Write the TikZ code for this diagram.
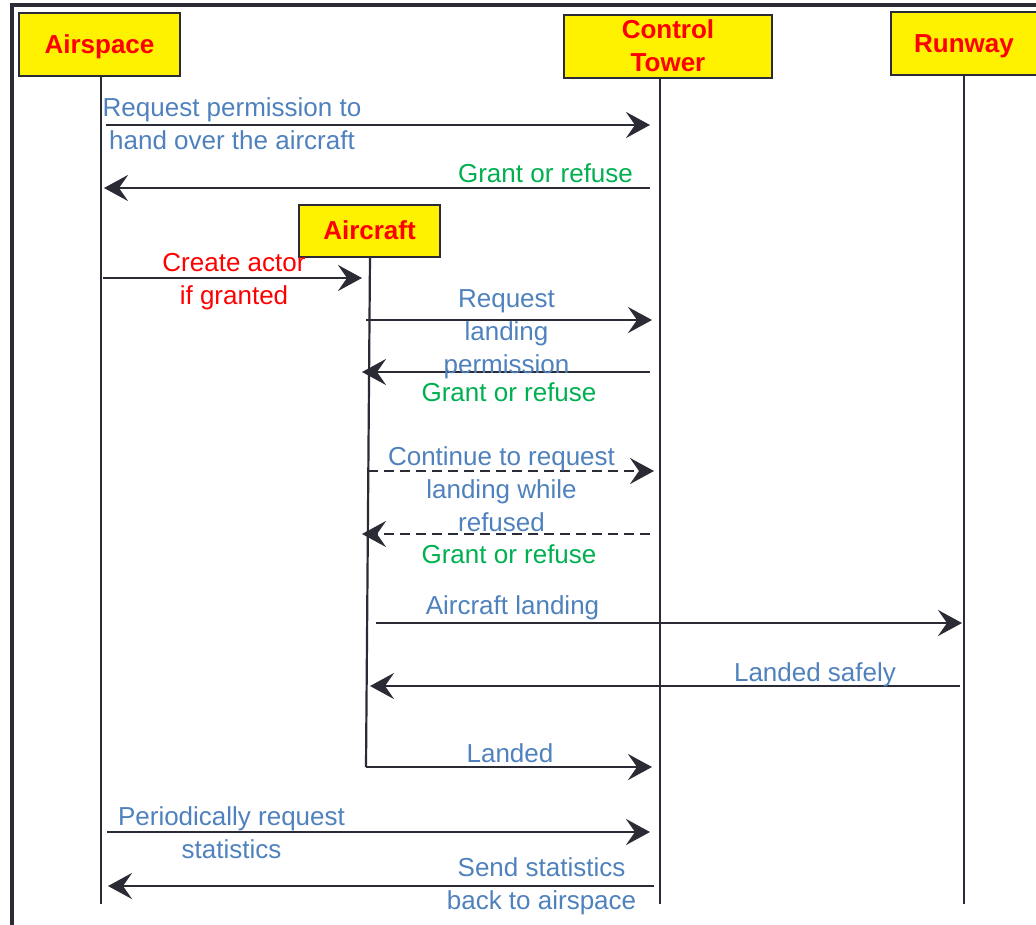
\documentclass[tikz,border=0pt]{standalone}
\usepackage{fontspec}
\setmainfont{Liberation Sans}
\usetikzlibrary{arrows.meta}

\definecolor{msgblue}{RGB}{79,129,189}
\definecolor{msggreen}{RGB}{0,176,80}
\definecolor{linegray}{RGB}{43,43,54}

\begin{document}
\begin{tikzpicture}[x=1pt, y=-1pt,
  actor/.style={draw=linegray, line width=2pt, fill=yellow, text=red, align=center,
    inner sep=0pt, text depth=0pt, font=\fontsize{26}{33}\selectfont\bfseries},
  life/.style={draw=linegray, line width=2.2pt},
  msg/.style={draw=linegray, line width=2.8pt, -{Stealth[length=24pt, width=26pt, inset=9pt]}},
  waitmsg/.style={msg, dash pattern=on 10pt off 6pt},
  txt/.style={font=\fontsize{26}{33}\selectfont, align=center, inner sep=0pt}]

  \useasboundingbox (0,0) rectangle (1036,924);
  \clip (0,0) rectangle (1036,924);
  \draw[linegray, line width=4pt] (11.5,5) rectangle (1080,960);

% actors
  \node[actor, minimum width=161, minimum height=63] (air) at (99.5,44.5) {Airspace};
  \node[actor, minimum width=208, minimum height=63] (tower) at (668,46) {Control\\Tower};
  \node[actor, minimum width=146, minimum height=63] (run) at (964,43.5) {Runway};
  \node[actor, minimum width=141, minimum height=52] (craft) at (369.5,230.5) {Aircraft};

% lifelines
  \coordinate (airtop) at (101,76);   \coordinate (airend) at (101,904);
  \coordinate (towtop) at (660,77);   \coordinate (towend) at (660,904);
  \coordinate (runtop) at (964,75);   \coordinate (runend) at (964,904);
  \coordinate (crtop) at (370,256);   \coordinate (crend) at (366,767);
  \draw[life] (airtop) -- (airend);
  \draw[life] (towtop) -- (towend);
  \draw[life] (runtop) -- (runend);
  \draw[life] (crtop) -- (crend);

% message ends
  \coordinate (m1a) at (106,125);  \coordinate (m1b) at (650,125);
  \coordinate (m2a) at (650,188);  \coordinate (m2b) at (104,188);
  \coordinate (m3a) at (103,278);  \coordinate (m3b) at (362,278);
  \coordinate (m4a) at (366,320);  \coordinate (m4b) at (652,320);
  \coordinate (m5a) at (650,372);  \coordinate (m5b) at (362,372);
  \coordinate (m6a) at (368,471);  \coordinate (m6b) at (654,471);
  \coordinate (m7a) at (650,534);  \coordinate (m7b) at (362,534);
  \coordinate (m8a) at (376,623);  \coordinate (m8b) at (962,623);
  \coordinate (m9a) at (960,686);  \coordinate (m9b) at (370,686);
  \coordinate (m10a) at (366,767); \coordinate (m10b) at (652,767);
  \coordinate (m11a) at (107,832); \coordinate (m11b) at (650,832);
  \coordinate (m12a) at (654,886); \coordinate (m12b) at (108,886);

  \draw[msg] (m1a) -- (m1b);
  \draw[msg] (m2a) -- (m2b);
  \draw[msg] (m3a) -- (m3b);
  \draw[msg] (m4a) -- (m4b);
  \draw[msg] (m5a) -- (m5b);
  \draw[waitmsg] (m6a) -- (m6b);
  \draw[waitmsg] (m7a) -- (m7b);
  \draw[msg] (m8a) -- (m8b);
  \draw[msg] (m9a) -- (m9b);
  \draw[msg] (m10a) -- (m10b);
  \draw[msg] (m11a) -- (m11b);
  \draw[msg] (m12a) -- (m12b);

% labels
  \node[txt, text=msgblue] (l1) at (232,123.5) {Request permission to\\hand over the aircraft};
  \node[txt, text=msggreen] (l2) at (545.5,173) {Grant or refuse};
  \node[txt, text=red] (l3) at (234,282) {Create actor\\if granted};
  \node[txt, text=msgblue] (l4) at (506.5,334) {Request\\landing\\permission};
  \node[txt, text=msggreen] (l5) at (509,392) {Grant or refuse};
  \node[txt, text=msgblue] (l6) at (501.5,489.5) {Continue to request\\landing while\\refused};
  \node[txt, text=msggreen] (l7) at (509,554) {Grant or refuse};
  \node[txt, text=msgblue] (l8) at (512.5,607.5) {Aircraft landing};
  \node[txt, text=msgblue] (l9) at (815,674.5) {Landed safely};
  \node[txt, text=msgblue] (l10) at (510,753) {Landed};
  \node[txt, text=msgblue] (l11) at (231.5,832.5) {Periodically request\\statistics};
  \node[txt, text=msgblue] (l12) at (541.5,886.5) {Send statistics\\back to airspace};

\end{tikzpicture}
\end{document}
